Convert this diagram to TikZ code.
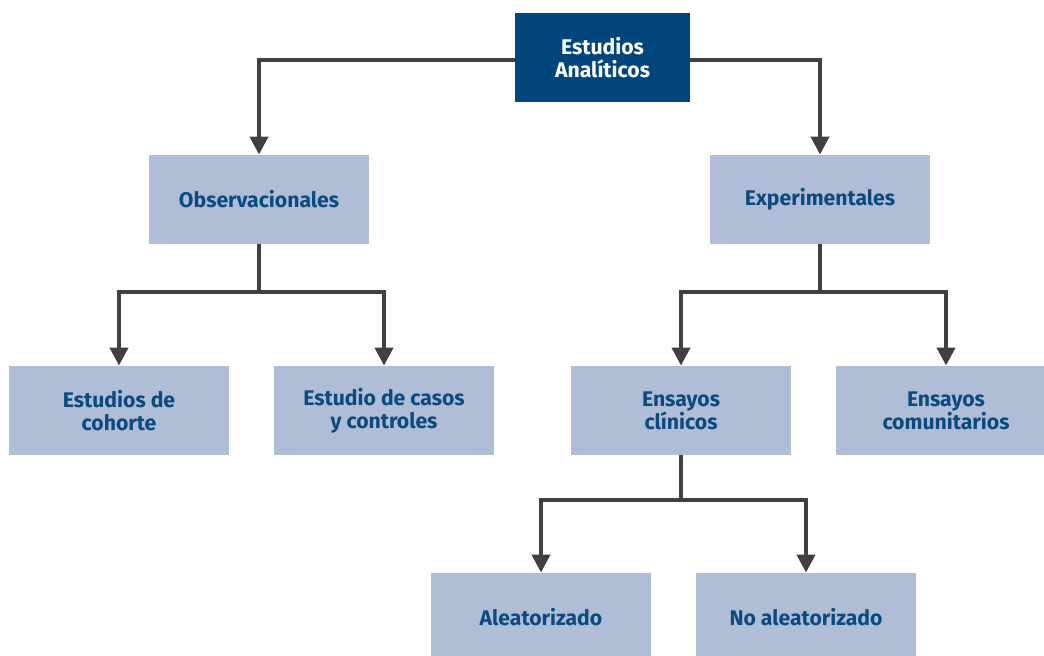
\documentclass[tikz,border=0pt]{standalone}
\usepackage{fontspec}
\setmainfont{Fira Sans}
\usepackage{xcolor}
\usetikzlibrary{arrows.meta}

\definecolor{darkblue}{HTML}{00457C}
\definecolor{paleblue}{HTML}{B0BDD6}
\definecolor{textblue}{HTML}{0B4A7E}
\definecolor{linegray}{HTML}{404040}

\begin{document}
\begin{tikzpicture}[x=0.5pt,y=-0.5pt,
    topbox/.style={shape=rectangle, fill=darkblue, text=white, minimum width=87.5pt,
      minimum height=44.5pt, align=center, font=\fontsize{10.6}{11.5}\selectfont\bfseries},
    box/.style={shape=rectangle, fill=paleblue, text=textblue, minimum width=110pt,
      minimum height=44.5pt, align=center, font=\fontsize{10.6}{11.5}\selectfont\bfseries},
    conn/.style={draw=linegray, line width=2pt, -{Triangle[width=9pt,length=9pt]}}]
    \useasboundingbox (0,0) rectangle (1044,656);

    \node[topbox] (analiticos) at (602.5,57.5) {Estudios\\Analíticos};
    \node[box] (obs) at (259,199.5) {Observacionales};
    \node[box] (exp) at (820,199.5) {Experimentales};
    \node[box] (cohorte) at (119,410.5) {Estudios de\\cohorte};
    \node[box] (casos) at (384,410.5) {Estudio de casos\\y controles};
    \node[box] (clinicos) at (681,410.5) {Ensayos\\clínicos};
    \node[box] (comunit) at (946,410.5) {Ensayos\\comunitarios};
    \node[box] (aleat) at (541,617.5) {Aleatorizado};
    \node[box] (noaleat) at (806,617.5) {No aleatorizado};

    % branch points
    \coordinate (jobs) at (259,292);
    \coordinate (jexp) at (820,292);
    \coordinate (jcli) at (681,500);

    \draw[conn] ([yshift=-1.25pt]analiticos.west) -| (obs.north);
    \draw[conn] ([yshift=-1.25pt]analiticos.east) -| (exp.north);

    \draw[draw=linegray, line width=2pt] (obs.south) -- (jobs);
    \draw[conn] (jobs) -| (cohorte.north);
    \draw[conn] (jobs) -| (casos.north);

    \draw[draw=linegray, line width=2pt] (exp.south) -- (jexp);
    \draw[conn] (jexp) -| (clinicos.north);
    \draw[conn] (jexp) -| (comunit.north);

    \draw[draw=linegray, line width=2pt] (clinicos.south) -- (jcli);
    \draw[conn] (jcli) -| (aleat.north);
    \draw[conn] (jcli) -| (noaleat.north);
\end{tikzpicture}
\end{document}
